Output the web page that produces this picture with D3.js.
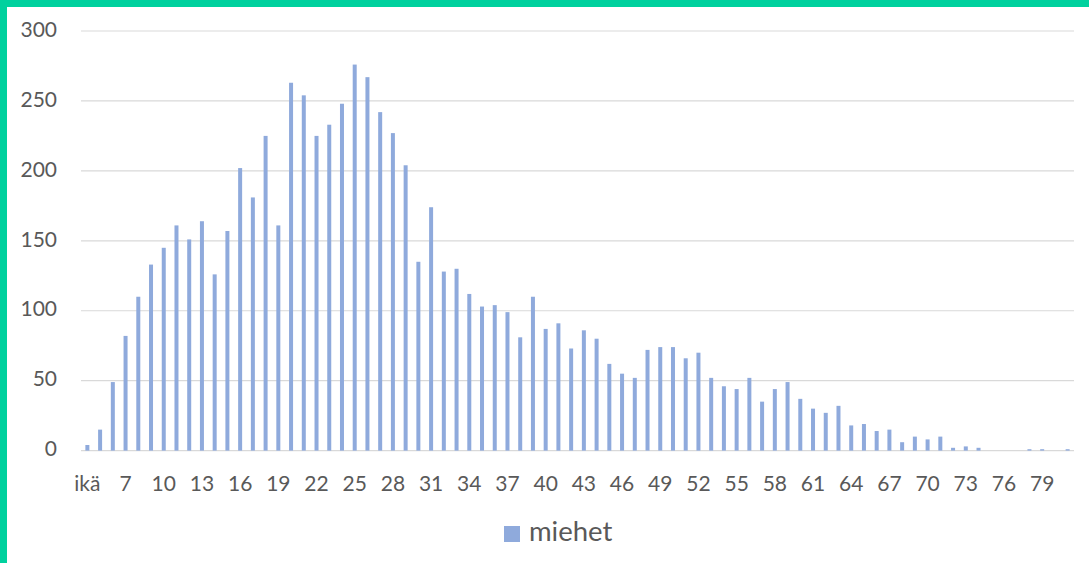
<!DOCTYPE html>
<html>
<head>
<meta charset="utf-8">
<script src="https://cdn.jsdelivr.net/npm/d3@7"></script>
<style>
  html, body { margin: 0; padding: 0; background: #fff; }
  svg { display: block; }
</style>
</head>
<body>
<svg id="chart" width="1089" height="563"></svg>
<script>
// ---- data ----
const categories = ["ikä"].concat(d3.range(5, 82).map(String));
const seriesName = "miehet";
const miehet = [
  4, 15, 49, 82, 110, 133, 145, 161, 151, 164,
  126, 157, 202, 181, 225, 161, 263, 254, 225, 233,
  248, 276, 267, 242, 227, 204, 135, 174, 128, 130,
  112, 103, 104, 99, 81, 110, 87, 91, 73, 86,
  80, 62, 55, 52, 72, 74, 74, 66, 70, 52,
  46, 44, 52, 35, 44, 49, 37, 30, 27, 32,
  18, 19, 14, 15, 6, 10, 8, 10, 2, 3,
  2, 0, 0, 0, 1, 1, 0, 1
];
const yTicks = [0, 50, 100, 150, 200, 250, 300];
const xTickLabels = categories.filter((d, i) => i % 3 === 0);

// ---- layout ----
const W = 1089, H = 563;
const plot = { left: 81, right: 1074, top: 31, bottom: 450.6 };
const svg = d3.select("#chart");
const font = "Lato, 'Open Sans', sans-serif";

// frame accents
svg.append("rect").attr("x", 0).attr("y", 0).attr("width", W).attr("height", H).attr("fill", "#fff");
svg.append("rect").attr("x", 0).attr("y", 0).attr("width", W).attr("height", 7).attr("fill", "#00D19E");
svg.append("rect").attr("x", 0).attr("y", 0).attr("width", 7).attr("height", H).attr("fill", "#00D19E");

const x = d3.scaleBand().domain(categories).range([plot.left, plot.right]).paddingInner(0).paddingOuter(0);
const y = d3.scaleLinear().domain([0, 300]).range([plot.bottom, plot.top]);

// gridlines
svg.append("g")
  .selectAll("line").data(yTicks).join("line")
  .attr("x1", plot.left).attr("x2", plot.right)
  .attr("y1", d => y(d)).attr("y2", d => y(d))
  .attr("stroke", "#d9d9d9").attr("stroke-width", 1.2);

// y axis labels
const yAxis = d3.axisLeft(y).tickValues(yTicks).tickSize(0).tickPadding(0);
const gy = svg.append("g").attr("transform", `translate(57,0)`).call(yAxis);
gy.select(".domain").remove();
gy.selectAll("text").attr("font-family", font).attr("font-size", 21).attr("fill", "#595959")
  .attr("dy", "0.25em");

// bars
const bw = 4;
svg.append("g")
  .selectAll("rect").data(miehet).join("rect")
  .attr("x", (d, i) => x(categories[i]) + x.bandwidth() / 2 - bw / 2)
  .attr("width", bw)
  .attr("y", d => y(d))
  .attr("height", d => plot.bottom - y(d))
  .attr("fill", "#8FAADC");

// x axis labels
const xAxis = d3.axisBottom(x).tickValues(xTickLabels).tickSize(0).tickPadding(0);
const gx = svg.append("g").attr("transform", `translate(0,${plot.bottom})`).call(xAxis);
gx.select(".domain").remove();
gx.selectAll("text").attr("font-family", font).attr("font-size", 21).attr("fill", "#595959")
  .attr("y", 40).attr("dy", 0);

// legend
const lg = svg.append("g");
lg.append("rect").attr("x", 504).attr("y", 526).attr("width", 16).attr("height", 16).attr("fill", "#8FAADC");
lg.append("text").attr("x", 529).attr("y", 541).text(seriesName)
  .attr("font-family", font).attr("font-size", 27.5).attr("fill", "#595959");
</script>
</body>
</html>
